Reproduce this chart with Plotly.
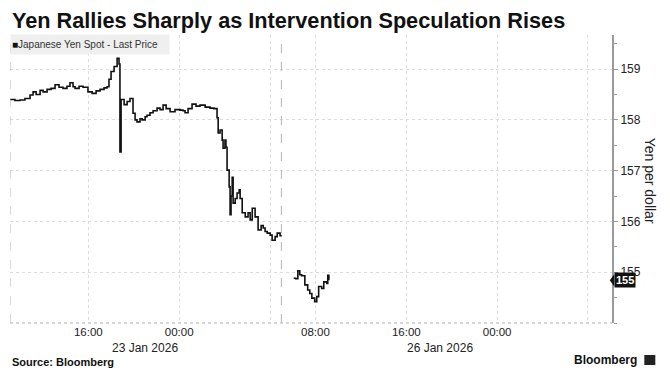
import plotly.graph_objects as go

# ---- data (Tokyo time) ----
times_fri = [
    "2026-01-23 09:06", "2026-01-23 09:32", "2026-01-23 09:59", "2026-01-23 10:25", "2026-01-23 10:52",
    "2026-01-23 11:08", "2026-01-23 11:24", "2026-01-23 11:45", "2026-01-23 12:01", "2026-01-23 12:22",
    "2026-01-23 12:43", "2026-01-23 13:04", "2026-01-23 13:25", "2026-01-23 13:46", "2026-01-23 14:07",
    "2026-01-23 14:23", "2026-01-23 14:39", "2026-01-23 14:50", "2026-01-23 15:11", "2026-01-23 15:32",
    "2026-01-23 15:58", "2026-01-23 16:20", "2026-01-23 16:41", "2026-01-23 17:02", "2026-01-23 17:23",
    "2026-01-23 17:39", "2026-01-23 17:49", "2026-01-23 18:00", "2026-01-23 18:16", "2026-01-23 18:32",
    "2026-01-23 18:42", "2026-01-23 18:47", "2026-01-23 18:53", "2026-01-23 19:09", "2026-01-23 19:25",
    "2026-01-23 19:40", "2026-01-23 19:56", "2026-01-23 20:07", "2026-01-23 20:17", "2026-01-23 20:33",
    "2026-01-23 20:44", "2026-01-23 21:00", "2026-01-23 21:10", "2026-01-23 21:26", "2026-01-23 21:42",
    "2026-01-23 22:03", "2026-01-23 22:19", "2026-01-23 22:35", "2026-01-23 22:51", "2026-01-23 23:12",
    "2026-01-23 23:38", "2026-01-24 00:05", "2026-01-24 00:20", "2026-01-24 00:31", "2026-01-24 00:47",
    "2026-01-24 01:08", "2026-01-24 01:29", "2026-01-24 01:50", "2026-01-24 02:17", "2026-01-24 02:43",
    "2026-01-24 03:04", "2026-01-24 03:20", "2026-01-24 03:26", "2026-01-24 03:36", "2026-01-24 03:47",
    "2026-01-24 03:52", "2026-01-24 04:02", "2026-01-24 04:07", "2026-01-24 04:13", "2026-01-24 04:24",
    "2026-01-24 04:29", "2026-01-24 04:34", "2026-01-24 04:40", "2026-01-24 04:45", "2026-01-24 04:56",
    "2026-01-24 05:06", "2026-01-24 05:17", "2026-01-24 05:22", "2026-01-24 05:33", "2026-01-24 05:49",
    "2026-01-24 06:04", "2026-01-24 06:15", "2026-01-24 06:26", "2026-01-24 06:41", "2026-01-24 06:57",
    "2026-01-24 07:13", "2026-01-24 07:24", "2026-01-24 07:34", "2026-01-24 07:45", "2026-01-24 08:01",
    "2026-01-24 08:11", "2026-01-24 08:27", "2026-01-24 08:38", "2026-01-24 08:53", "2026-01-24 08:59",
]
prices_fri = [
    158.40, 158.38, 158.39, 158.42, 158.49,
    158.55, 158.50, 158.58, 158.55, 158.60,
    158.62, 158.69, 158.64, 158.62, 158.66,
    158.73, 158.65, 158.62, 158.66, 158.64,
    158.55, 158.52, 158.57, 158.60, 158.63,
    158.65, 158.80, 158.95, 159.05, 159.21,
    159.10, 157.37, 158.40, 158.30, 158.36,
    158.42, 158.13, 158.00, 157.96, 158.02,
    158.00, 158.06, 158.09, 158.14, 158.18,
    158.23, 158.20, 158.29, 158.22, 158.16,
    158.20, 158.19, 158.18, 158.14, 158.22,
    158.31, 158.27, 158.29, 158.25, 158.23,
    158.22, 158.04, 157.74, 157.80, 157.60,
    157.44, 157.60, 157.46, 157.01, 156.68,
    156.13, 156.50, 156.87, 156.36, 156.45,
    156.56, 156.62, 156.45, 156.17, 156.09,
    156.17, 156.03, 156.26, 156.09, 155.83,
    155.92, 155.87, 155.80, 155.77, 155.73,
    155.63, 155.70, 155.77, 155.72, 155.73,
]
times_mon = [
    "2026-01-26 06:05", "2026-01-26 06:16", "2026-01-26 06:27", "2026-01-26 06:37", "2026-01-26 06:47",
    "2026-01-26 07:04", "2026-01-26 07:19", "2026-01-26 07:30", "2026-01-26 07:41", "2026-01-26 07:56",
    "2026-01-26 08:07", "2026-01-26 08:17", "2026-01-26 08:33", "2026-01-26 08:44", "2026-01-26 09:00",
    "2026-01-26 09:05", "2026-01-26 09:11",
]
prices_mon = [
    154.88, 154.87, 155.03, 154.95, 154.93,
    154.75, 154.65, 154.58, 154.49, 154.42,
    154.52, 154.72, 154.68, 154.81, 154.78,
    154.94, 154.84,
]

tick_vals = ["2026-01-23 16:00", "2026-01-24 00:00", "2026-01-24 08:00",
             "2026-01-26 08:00", "2026-01-26 16:00", "2026-01-27 00:00", "2026-01-27 08:00"]
tick_text = ["16:00", "00:00", "", "08:00", "16:00", "00:00", ""]
y_ticks = [155, 156, 157, 158, 159]
date_labels = ["23 Jan 2026", "26 Jan 2026"]

x_range = ["2026-01-23 09:06", "2026-01-27 10:07"]
break_bounds = ["2026-01-24 09:00", "2026-01-26 05:00"]

FONT = "Liberation Sans"
OFF = 8  # page body margin offset
W, H = 670 - OFF, 378 - OFF
# plot area in reference (page) pixel coordinates
RL, RR, RT, RB = 10, 611.7, 35, 323
L, R, T, B = RL - OFF, RR - OFF, RT - OFF, RB - OFF


def px(xp):
    return (xp - RL) / (RR - RL)


def py(yp):
    return (RB - yp) / (RB - RT)


fig = go.Figure()
fig.add_trace(go.Scatter(x=times_fri, y=prices_fri, mode="lines",
                         line=dict(color="#111111", width=1.6, shape="hv"),
                         showlegend=False, hoverinfo="skip"))
fig.add_trace(go.Scatter(x=times_mon, y=prices_mon, mode="lines",
                         line=dict(color="#111111", width=1.6, shape="hv"),
                         showlegend=False, hoverinfo="skip"))

fig.update_layout(
    width=W, height=H,
    margin=dict(l=L, r=W - R, t=T, b=H - B, autoexpand=False),
    paper_bgcolor="white", plot_bgcolor="white",
    font=dict(family=FONT, color="#222222", size=11),
    xaxis=dict(
        type="date", range=x_range,
        rangebreaks=[dict(bounds=break_bounds)],
        tickmode="array", tickvals=tick_vals, ticktext=tick_text,
        showgrid=True, gridcolor="#dcdcdc", griddash="dot", gridwidth=1,
        showline=False, zeroline=False, ticks="",
        tickfont=dict(size=11.5, color="#222222"),
    ),
    yaxis=dict(
        side="right", range=[154, 159.67],
        tickmode="array", tickvals=y_ticks,
        showgrid=True, gridcolor="#dcdcdc", griddash="dot", gridwidth=1,
        showline=True, linecolor="#9a9a9a", linewidth=2,
        ticks="outside", ticklen=4, tickcolor="#9a9a9a", tickwidth=1,
        minor=dict(tickmode="linear", tick0=154, dtick=0.5, ticks="outside",
                   ticklen=3, tickcolor="#9a9a9a", showgrid=False),
        zeroline=False,
        tickfont=dict(size=12, color="#222222"),
    ),
)

# dotted bottom line
fig.add_shape(type="line", xref="paper", yref="paper", x0=0, x1=1, y0=0, y1=0,
              line=dict(color="#b0b0b0", width=1, dash="dot"))
# session break dashed lines
fig.add_shape(type="line", xref="x", yref="paper", x0=x_range[0], x1=x_range[0], y0=0, y1=1,
              line=dict(color="#b5b5b5", width=1, dash="dash"))
fig.add_shape(type="line", xref="x", yref="paper", x0=break_bounds[1], x1=break_bounds[1], y0=0, y1=1,
              line=dict(color="#b5b5b5", width=1, dash="dash"))

# title
fig.add_annotation(xref="paper", yref="paper", x=px(10), y=py(21), xanchor="left", yanchor="middle",
                   text="<b>Yen Rallies Sharply as Intervention Speculation Rises</b>", showarrow=False,
                   font=dict(family=FONT, size=21.7, color="#111111"))
# legend box
fig.add_annotation(xref="paper", yref="paper", x=px(10), y=py(34), xanchor="left", yanchor="top",
                   text="<span style='color:#111'>■</span>Japanese Yen Spot - Last Price",
                   showarrow=False, align="left", width=156, height=17, bgcolor="#efefef",
                   borderpad=1, font=dict(family=FONT, size=10, color="#333333"))
# y-axis title
fig.add_annotation(xref="paper", yref="paper", x=px(650), y=py(181), xanchor="center", yanchor="middle",
                   text="Yen per dollar", textangle=90, showarrow=False,
                   font=dict(family=FONT, size=14, color="#222222"))
# last price tag
fig.add_annotation(xref="paper", yref="y", x=px(614), y=prices_mon[-1], xanchor="left", yanchor="middle",
                   text="<b>155</b>", showarrow=False, bgcolor="#111111", borderpad=1,
                   font=dict(family=FONT, size=11, color="white"))
fig.add_shape(type="path", xref="paper", yref="y",
              path=f"M {px(609.5)} {prices_mon[-1]} L {px(614)} {prices_mon[-1] + 0.12} L {px(614)} {prices_mon[-1] - 0.12} Z",
              fillcolor="#111111", line=dict(width=0))
# date labels
fig.add_annotation(xref="paper", yref="paper", x=px(145), y=py(348), xanchor="center", yanchor="middle",
                   text=date_labels[0], showarrow=False, font=dict(family=FONT, size=12, color="#222222"))
fig.add_annotation(xref="paper", yref="paper", x=px(440), y=py(348), xanchor="center", yanchor="middle",
                   text=date_labels[1], showarrow=False, font=dict(family=FONT, size=12, color="#222222"))
# footer
fig.add_annotation(xref="paper", yref="paper", x=px(10), y=py(362), xanchor="left", yanchor="middle",
                   text="<b>Source: Bloomberg</b>", showarrow=False, font=dict(family=FONT, size=11, color="#111111"))
fig.add_annotation(xref="paper", yref="paper", x=px(639), y=py(360), xanchor="right", yanchor="middle",
                   text="<b>Bloomberg</b>", showarrow=False, font=dict(family=FONT, size=12, color="#111111"))
fig.add_shape(type="rect", xref="paper", yref="paper", x0=px(644), x1=px(655), y0=py(365), y1=py(355),
              fillcolor="#222222", line=dict(width=0))

fig.write_html("out.html")
